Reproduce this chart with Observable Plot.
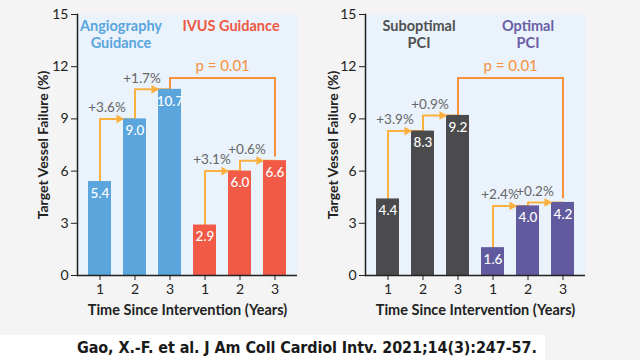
<!DOCTYPE html>
<html><head><meta charset="utf-8">
<script src="https://cdn.jsdelivr.net/npm/d3@7"></script>
<script src="https://cdn.jsdelivr.net/npm/@observablehq/plot@0.6"></script>
<style>
html,body{margin:0;padding:0;background:#f4f4f4;}
#wrap{position:relative;width:640px;height:360px;overflow:hidden;background:#f4f4f4;}
#left{position:absolute;left:0;top:0;}
#right{position:absolute;left:320px;top:0;}
#cap{position:absolute;left:0;top:335px;width:545px;height:25px;background:#fff;}
#cap span{position:absolute;left:77px;top:3px;font-weight:bold;font-size:16px;letter-spacing:-0.1px;font-family:"Liberation Sans Narrow","DejaVu Sans Condensed",sans-serif;color:#1a1a1a;white-space:nowrap;}
</style></head><body>
<div id="wrap"><div id="left"></div><div id="right"></div><div id="cap"><span id="capText"></span></div></div>
<script>
// ---- data ----
const years = ["1", "2", "3"];
const yTicks = [0, 3, 6, 9, 12, 15];
const yLabel = "Target Vessel Failure (%)";
const xLabel = "Time Since Intervention (Years)";
const pLabel = "p = 0.01";
const caption = "Gao, X.-F. et al. J Am Coll Cardiol Intv. 2021;14(3):247-57.";

const leftGroups = ["Angiography\nGuidance", "IVUS Guidance"];
const leftValues = [[5.4, 9.0, 10.7], [2.9, 6.0, 6.6]];
const leftIncrements = [["+3.6%", "+1.7%"], ["+3.1%", "+0.6%"]];

const rightGroups = ["Suboptimal\nPCI", "Optimal\nPCI"];
const rightValues = [[4.4, 8.3, 9.2], [1.6, 4.0, 4.2]];
const rightIncrements = [["+3.9%", "+0.9%"], ["+2.4%", "+0.2%"]];

// ---- styling ----
const FONT = "Lato, 'Noto Sans', sans-serif";
const ARROW = "#fbb040";
const BRACKET = "#f7913d";
const BRACKET_LEVEL = 11.35;

function panel(groups, values, increments, barColors, titleColors, marginLeft, marginRight, titleDx, yLabelDx) {
  const keys = [];
  const rows = [];
  values.forEach((vals, g) => vals.forEach((v, i) => {
    const key = g + "-" + i;
    keys.push(key);
    rows.push({key, g, year: years[i], value: v});
  }));
  const yearOf = Object.fromEntries(rows.map(d => [d.key, d.year]));
  const arrowPts = [], tris = [], incs = [];
  values.forEach((vals, g) => {
    for (let i = 0; i < vals.length - 1; i++) {
      const id = g + "-" + i;
      const a = g + "-" + i, b = g + "-" + (i + 1);
      arrowPts.push({id, key: a, value: vals[i]}, {id, key: a, value: vals[i + 1]}, {id, key: b, value: vals[i + 1]});
      tris.push({key: b, value: vals[i + 1]});
      incs.push({key: a, value: vals[i + 1], text: increments[g][i]});
    }
  });
  const last0 = values[0].length - 1, last1 = values[1].length - 1;
  const bracket = [
    {key: "0-" + last0, value: values[0][last0]},
    {key: "0-" + last0, value: BRACKET_LEVEL},
    {key: "1-" + last1, value: BRACKET_LEVEL},
    {key: "1-" + last1, value: values[1][last1] + 0.28}
  ];
  const titles = groups.map((t, g) => ({key: g + "-1", text: t, g}));

  return Plot.plot({
    width: 320, height: 335,
    marginLeft, marginRight, marginTop: 14, marginBottom: 60,
    style: {background: "transparent", fontFamily: FONT, fontSize: "14px", color: "#222", overflow: "visible"},
    x: {type: "band", domain: keys, paddingInner: 0.35, paddingOuter: 0.3, label: null},
    y: {domain: [0, 15], label: null},
    marks: [
      Plot.frame({fill: "#eaf2fb", stroke: null}),
      Plot.axisY({ticks: yTicks, tickSize: 6, tickPadding: 3, fontSize: 14, label: null, stroke: "#222"}),
      Plot.axisX({tickFormat: k => yearOf[k], tickSize: 5, tickPadding: 4, fontSize: 14, label: null, stroke: "#222"}),
      Plot.line(arrowPts, {x: "key", y: "value", z: "id", stroke: ARROW, strokeWidth: 2}),
      Plot.line(bracket, {x: "key", y: "value", stroke: BRACKET, strokeWidth: 2}),
      Plot.barY(rows.filter(d => d.g === 0), {x: "key", y: "value", fill: barColors[0]}),
      Plot.barY(rows.filter(d => d.g === 1), {x: "key", y: "value", fill: barColors[1]}),
      Plot.dot(tris, {x: "key", y: "value", symbol: "triangle", rotate: 90, r: 3.3, fill: ARROW, stroke: null, dx: -16}),
      Plot.text(rows, {x: "key", y: "value", text: d => d.value.toFixed(1), fill: "white", dy: 12, fontSize: 13.5, fontWeight: 500}),
      Plot.text(incs, {x: "key", y: "value", text: "text", fill: "#666", dx: 7, dy: -11, fontSize: 13.5}),
      Plot.text([pLabel], {x: () => "1-0", y: () => BRACKET_LEVEL, text: d => d, fill: BRACKET, dx: 17.6, dy: -12, fontSize: 15}),
      Plot.text(titles.filter(d => d.g === 0), {x: "key", text: "text", frameAnchor: "top", lineAnchor: "top", dy: 5, dx: titleDx[0], fill: titleColors[0], fontWeight: "bold", fontSize: 14.5, lineHeight: 1.15}),
      Plot.text(titles.filter(d => d.g === 1), {x: "key", text: "text", frameAnchor: "top", lineAnchor: "top", dy: 5, dx: titleDx[1], fill: titleColors[1], fontWeight: "bold", fontSize: 14.5, lineHeight: 1.15}),
      Plot.text([yLabel], {frameAnchor: "left", textAnchor: "middle", lineAnchor: "middle", rotate: -90, dx: yLabelDx, fontWeight: "bold", fontSize: 14, fill: "#222"}),
      Plot.text([xLabel], {frameAnchor: "bottom", lineAnchor: "middle", dy: 35, fontWeight: "bold", fontSize: 14.5, fill: "#222"}),
      Plot.ruleY([0], {stroke: "#222", strokeWidth: 1.5}),
      Plot.frame({anchor: "left", stroke: "#222", strokeWidth: 1.5})
    ]
  });
}

document.getElementById("left").append(panel(leftGroups, leftValues, leftIncrements,
  ["#5aa5dc", "#f15a47"], ["#5aa5dc", "#ef5842"], 77, 23, [-14, -9], -34));
document.getElementById("right").append(panel(rightGroups, rightValues, rightIncrements,
  ["#4b4b4d", "#625a9f"], ["#505050", "#6a5ea6"], 45, 55, [-4, 0], -32));
document.getElementById("capText").textContent = caption;
</script>
</body></html>
